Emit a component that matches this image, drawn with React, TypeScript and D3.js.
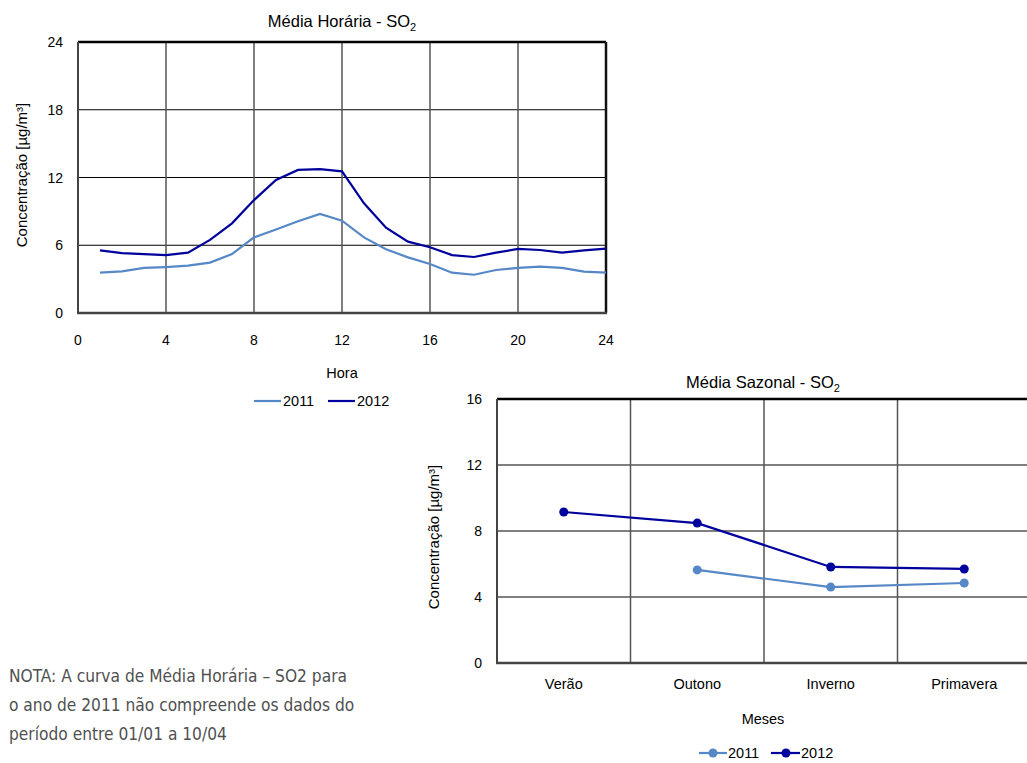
import React from "react";
import * as d3 from "d3";

const hours = d3.range(1, 25);
const hourly2011 = [3.57, 3.69, 3.99, 4.07, 4.19, 4.46, 5.22, 6.7, 7.4, 8.12, 8.77, 8.18, 6.7, 5.64, 4.93, 4.34, 3.57, 3.39, 3.81, 3.99, 4.1, 3.99, 3.66, 3.57];
const hourly2012 = [5.55, 5.31, 5.22, 5.13, 5.34, 6.47, 7.94, 10.0, 11.78, 12.67, 12.75, 12.55, 9.71, 7.56, 6.32, 5.82, 5.13, 4.96, 5.34, 5.67, 5.58, 5.34, 5.55, 5.7];
const hourXTicks = [0, 4, 8, 12, 16, 20, 24];
const hourYTicks = [0, 6, 12, 18, 24];

const seasons = ["Verão", "Outono", "Inverno", "Primavera"];
const seasonal2011: (number | null)[] = [null, 5.64, 4.6, 4.85];
const seasonal2012: (number | null)[] = [9.15, 8.48, 5.82, 5.7];
const seasonYTicks = [0, 4, 8, 12, 16];

const C2011 = "#5687c6";
const C2012 = "#00009c";
const FONT = "'Liberation Sans Narrow', 'Arial Narrow', 'Liberation Sans', Arial, sans-serif";

export default function App() {
  // Top chart
  const x1 = d3.scaleLinear().domain([0, 24]).range([78, 606]);
  const y1 = d3.scaleLinear().domain([0, 24]).range([313, 42]);
  const line1 = d3.line<number>().x((_, i) => x1(hours[i])).y((d) => y1(d));

  // Bottom chart
  const x2 = d3.scaleBand().domain(seasons).range([497, 1031]);
  const y2 = d3.scaleLinear().domain([0, 16]).range([663, 399]);
  const cx = (s: string) => (x2(s) as number) + x2.bandwidth() / 2;
  const line2 = d3
    .line<number | null>()
    .defined((d) => d !== null)
    .x((_, i) => cx(seasons[i]))
    .y((d) => y2(d as number));

  return (
    <svg width={1027} height={763} style={{ position: "absolute", left: 0, top: 0, background: "#fff" }} fontFamily={FONT}>
      <rect x={0} y={0} width={1027} height={763} fill="#fff" />
      {/* ===== Top chart ===== */}
      <text x={342} y={27} textAnchor="middle" fontSize={16.5} fill="#000">
        Média Horária - SO<tspan fontSize={11} dy={4}>2</tspan>
      </text>
      {hourYTicks.filter((t) => t > 0 && t < 24).map((t) => (
        <line key={"h1" + t} x1={78} x2={606} y1={y1(t)} y2={y1(t)} stroke="#000" strokeWidth={1} />
      ))}
      {hourXTicks.filter((t) => t > 0 && t < 24).map((t) => (
        <line key={"v1" + t} x1={x1(t)} x2={x1(t)} y1={42} y2={313} stroke="#555" strokeWidth={1.5} />
      ))}
      <line x1={78} x2={606} y1={42} y2={42} stroke="#000" strokeWidth={2.5} />
      <line x1={606} x2={606} y1={42} y2={313} stroke="#111" strokeWidth={2.5} />
      <line x1={78} x2={78} y1={42} y2={313} stroke="#444" strokeWidth={2} />
      <line x1={77} x2={607} y1={313} y2={313} stroke="#444" strokeWidth={2.5} />
      <path d={line1(hourly2011) || ""} fill="none" stroke={C2011} strokeWidth={2.2} />
      <path d={line1(hourly2012) || ""} fill="none" stroke={C2012} strokeWidth={2.2} />
      {hourYTicks.map((t) => (
        <text key={"yt1" + t} x={63} y={y1(t) + 5} textAnchor="end" fontSize={14} fill="#000">{t}</text>
      ))}
      {hourXTicks.map((t) => (
        <text key={"xt1" + t} x={x1(t)} y={345} textAnchor="middle" fontSize={14} fill="#000">{t}</text>
      ))}
      <text x={342} y={378} textAnchor="middle" fontSize={14.5} fill="#000">Hora</text>
      <text transform="translate(27,175) rotate(-90)" textAnchor="middle" fontSize={15} fill="#000">Concentração [µg/m³]</text>
      <line x1={254} x2={281} y1={401} y2={401} stroke={C2011} strokeWidth={2.2} />
      <text x={283} y={406} fontSize={14.5} fill="#000">2011</text>
      <line x1={328} x2={355} y1={401} y2={401} stroke={C2012} strokeWidth={2.2} />
      <text x={357} y={406} fontSize={14.5} fill="#000">2012</text>

      {/* ===== Bottom chart ===== */}
      <text x={763} y={388} textAnchor="middle" fontSize={16.5} fill="#000">
        Média Sazonal - SO<tspan fontSize={11} dy={4}>2</tspan>
      </text>
      {seasonYTicks.filter((t) => t > 0 && t < 16).map((t) => (
        <line key={"h2" + t} x1={497} x2={1031} y1={y2(t)} y2={y2(t)} stroke="#000" strokeWidth={1} />
      ))}
      {seasons.slice(1).map((s) => (
        <line key={"v2" + s} x1={x2(s) as number} x2={x2(s) as number} y1={399} y2={663} stroke="#555" strokeWidth={1.5} />
      ))}
      <line x1={497} x2={1031} y1={399} y2={399} stroke="#000" strokeWidth={2.5} />
      <line x1={497} x2={497} y1={399} y2={663} stroke="#444" strokeWidth={2} />
      <line x1={496} x2={1031} y1={663} y2={663} stroke="#444" strokeWidth={2.5} />
      <path d={line2(seasonal2011) || ""} fill="none" stroke={C2011} strokeWidth={2.2} />
      <path d={line2(seasonal2012) || ""} fill="none" stroke={C2012} strokeWidth={2.2} />
      {seasonal2011.map((v, i) => v === null ? null : (
        <circle key={"c11" + i} cx={cx(seasons[i])} cy={y2(v)} r={4.5} fill={C2011} />
      ))}
      {seasonal2012.map((v, i) => v === null ? null : (
        <circle key={"c12" + i} cx={cx(seasons[i])} cy={y2(v)} r={4.5} fill={C2012} />
      ))}
      {seasonYTicks.map((t) => (
        <text key={"yt2" + t} x={482} y={y2(t) + 5} textAnchor="end" fontSize={14} fill="#000">{t}</text>
      ))}
      {seasons.map((s) => (
        <text key={"xt2" + s} x={cx(s)} y={689} textAnchor="middle" fontSize={14.5} fill="#000">{s}</text>
      ))}
      <text x={763} y={724} textAnchor="middle" fontSize={14.5} fill="#000">Meses</text>
      <text transform="translate(439,537) rotate(-90)" textAnchor="middle" fontSize={15} fill="#000">Concentração [µg/m³]</text>
      <line x1={699} x2={727} y1={753} y2={753} stroke={C2011} strokeWidth={2.2} />
      <circle cx={713} cy={753} r={4.5} fill={C2011} />
      <text x={728} y={758} fontSize={14.5} fill="#000">2011</text>
      <line x1={771} x2={800} y1={753} y2={753} stroke={C2012} strokeWidth={2.2} />
      <circle cx={786} cy={753} r={4.5} fill={C2012} />
      <text x={801} y={758} fontSize={14.5} fill="#000">2012</text>

      {/* ===== Note ===== */}
      <g fontFamily="'DejaVu Sans Condensed', 'Open Sans', sans-serif" fontSize={17.2} fill="#505050">
        <text x={9} y={682}>NOTA: A curva de Média Horária – SO2 para</text>
        <text x={9} y={711}>o ano de 2011 não compreende os dados do</text>
        <text x={9} y={740}>período entre 01/01 a 10/04</text>
      </g>
    </svg>
  );
}
